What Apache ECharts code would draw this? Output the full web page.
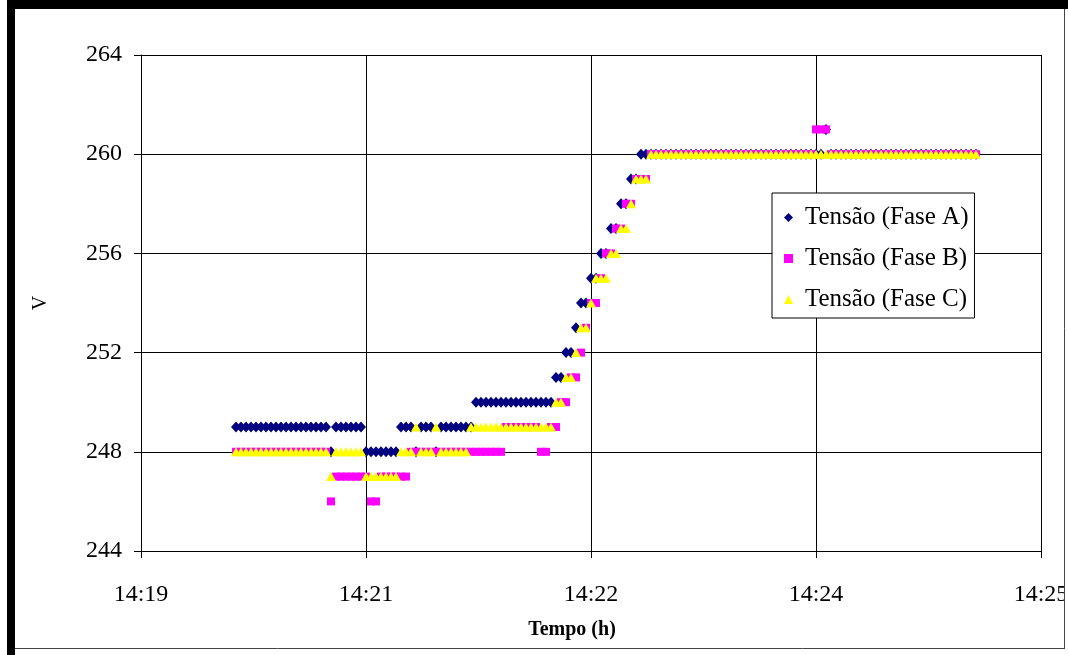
<!DOCTYPE html>
<html><head><meta charset="utf-8">
<script src="https://cdn.jsdelivr.net/npm/echarts@6/dist/echarts.min.js"></script>
<style>html,body{margin:0;padding:0;background:#fff;overflow:hidden}#c{width:1068px;height:655px}</style>
</head><body><div id="c"></div>
<script>
// sample times, seconds after 14:19:00
const timeSec = [38,40,42,44,46,48,50,52,54,56,58,60,62,64,66,68,70,72,74,76,
78,80,82,84,86,88,90,92,94,96,98,100,102,104,106,108,110,112,114,116,
118,120,122,124,126,128,130,132,134,136,138,140,142,144,146,148,150,152,154,156,
158,160,162,164,166,168,170,172,174,176,178,180,182,184,186,188,190,192,194,196,
198,200,202,204,206,208,210,212,214,216,218,220,222,224,226,228,230,232,234,236,
238,240,242,244,246,248,250,252,254,256,258,260,262,264,266,268,270,272,274,276,
278,280,282,284,286,288,290,292,294,296,298,300,302,304,306,308,310,312,314,316,
318,320,322,324,326,328,330,332,334];
const faseA = [249,249,249,249,249,249,249,249,249,249,
249,249,249,249,249,249,249,249,249,248,
249,249,249,249,249,249,248,248,248,248,
248,248,248,249,249,249,248,249,249,249,
248,249,249,249,249,249,249,249,250,250,
250,250,250,250,250,250,250,250,250,250,
250,250,250,250,251,251,252,252,253,254,
254,255,255,256,256,257,257,258,258,259,
259,260,260,260,260,260,260,260,260,260,
260,260,260,260,260,260,260,260,260,260,
260,260,260,260,260,260,260,260,260,260,
260,260,260,260,260,260,260,260,261,260,
260,260,260,260,260,260,260,260,260,260,
260,260,260,260,260,260,260,260,260,260,
260,260,260,260,260,260,260,260,260];
const faseB = [248,248,248,248,248,248,248,248,248,248,
248,248,248,248,248,248,248,248,248,246,
247,247,247,247,247,247,247,246,246,247,
247,247,247,247,247,248,248,248,248,248,
248,248,248,248,248,248,248,248,248,248,
248,248,248,248,249,249,249,249,249,249,
249,248,248,249,249,250,250,251,251,252,
253,254,254,255,256,256,257,257,258,258,
259,259,259,260,260,260,260,260,260,260,
260,260,260,260,260,260,260,260,260,260,
260,260,260,260,260,260,260,260,260,260,
260,260,260,260,260,260,261,261,261,260,
260,260,260,260,260,260,260,260,260,260,
260,260,260,260,260,260,260,260,260,260,
260,260,260,260,260,260,260,260,260];
const faseC = [248,248,248,248,248,248,248,248,248,248,
248,248,248,248,248,248,248,248,248,247,
248,248,248,248,248,248,247,247,247,247,
247,247,247,248,248,248,249,248,248,248,
249,248,248,248,248,248,248,249,249,249,
249,249,249,249,249,249,249,249,249,249,
249,249,249,249,250,250,251,251,252,253,
253,254,255,255,255,256,256,257,257,258,
259,259,259,260,260,260,260,260,260,260,
260,260,260,260,260,260,260,260,260,260,
260,260,260,260,260,260,260,260,260,260,
260,260,260,260,260,260,260,260,260,260,
260,260,260,260,260,260,260,260,260,260,
260,260,260,260,260,260,260,260,260,260,
260,260,260,260,260,260,260,260,260];
const xTickLabels = ['14:19','14:21','14:22','14:24','14:25'];
const seriesNames = ['Tensão (Fase A)','Tensão (Fase B)','Tensão (Fase C)'];

const FONT = "'Times New Roman','Liberation Serif',serif";
const pair = v => timeSec.map((t, i) => [t, v[i]]);
const chart = echarts.init(document.getElementById('c'), null, {renderer: 'canvas'});
chart.setOption({
  animation: false,
  backgroundColor: '#fff',
  grid: {left: 141, right: 27, top: 55, bottom: 104, containLabel: false, outerBoundsMode: 'none'},
  xAxis: {
    type: 'value', min: 0, max: 360, interval: 90,
    name: 'Tempo (h)', nameLocation: 'middle', nameGap: 69,
    nameTextStyle: {fontFamily: FONT, fontSize: 20, fontWeight: 'bold', color: '#000', padding: [0, 38, 0, 0]},
    axisLine: {lineStyle: {color: '#000', width: 1}},
    axisTick: {show: true, inside: false, length: 7, lineStyle: {color: '#000'}},
    splitLine: {show: true, lineStyle: {color: '#000', width: 1}},
    axisLabel: {fontFamily: FONT, fontSize: 24, color: '#000', margin: 32,
      showMinLabel: true, showMaxLabel: true,
      formatter: v => xTickLabels[Math.round(v / 90)]}
  },
  yAxis: {
    type: 'value', min: 244, max: 264, interval: 4,
    name: 'V', nameLocation: 'middle', nameGap: 90, nameRotate: 90,
    nameTextStyle: {fontFamily: FONT, fontSize: 20, color: '#000'},
    axisLine: {show: true, lineStyle: {color: '#000', width: 1}},
    axisTick: {show: true, inside: false, length: 7, lineStyle: {color: '#000'}},
    splitLine: {show: true, lineStyle: {color: '#000', width: 1}},
    axisLabel: {fontFamily: FONT, fontSize: 24, color: '#000', margin: 19}
  },
  legend: {
    orient: 'vertical', left: 772, top: 193,
    borderColor: '#000', borderWidth: 1, backgroundColor: '#fff',
    padding: [12, 6, 6, 12], itemGap: 16, itemWidth: 9, itemHeight: 9,
    textStyle: {fontFamily: FONT, fontSize: 25, color: '#000', padding: [0, 0, 0, 7]},
    data: [
      {name: seriesNames[0], icon: 'diamond'},
      {name: seriesNames[1], icon: 'rect'},
      {name: seriesNames[2], icon: 'triangle'}
    ]
  },
  series: [
    {name: seriesNames[0], type: 'scatter', symbol: 'diamond', symbolSize: [10, 11],
     itemStyle: {color: '#000080', opacity: 1}, data: pair(faseA)},
    {name: seriesNames[1], type: 'scatter', symbol: 'rect', symbolSize: 8,
     itemStyle: {color: '#FF00FF', opacity: 1}, data: pair(faseB)},
    {name: seriesNames[2], type: 'scatter', symbol: 'triangle', symbolSize: [10, 9],
     itemStyle: {color: '#FFFF00', opacity: 1}, data: pair(faseC)}
  ],
  graphic: [
    {type: 'rect', z: 100, shape: {x: 1065, y: 0, width: 3, height: 655}, style: {fill: '#fff'}},
    {type: 'rect', z: 101, shape: {x: 7, y: 0, width: 1061, height: 9}, style: {fill: '#000'}},
    {type: 'rect', z: 101, shape: {x: 7, y: 0, width: 8, height: 655}, style: {fill: '#000'}},
    {type: 'line', z: 101, shape: {x1: 1064.5, y1: 9, x2: 1064.5, y2: 648}, style: {stroke: '#444', lineWidth: 1}},
    {type: 'line', z: 101, shape: {x1: 15, y1: 648.5, x2: 1065, y2: 648.5}, style: {stroke: '#444', lineWidth: 1}},
    {type: 'rect', z: 100, shape: {x: 0, y: 649, width: 1068, height: 6}, style: {fill: '#fff'}}
  ]
});
</script></body></html>
